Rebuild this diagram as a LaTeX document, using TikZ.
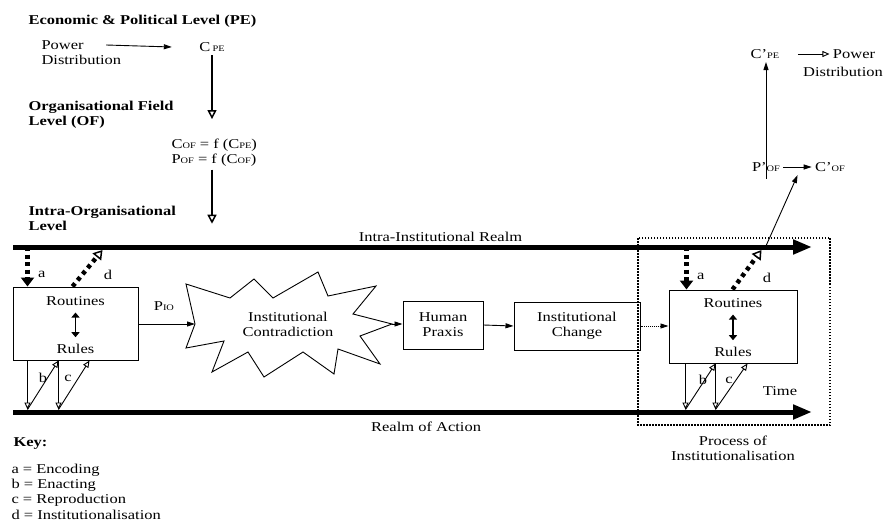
\documentclass[tikz,border=0pt]{standalone}
\usepackage{fontspec}
\setmainfont{Liberation Serif}[FakeStretch=1.22]
\usetikzlibrary{arrows.meta}
\newcommand{\lvl}[1]{{\fontsize{8.5}{9}\selectfont #1}}

\begin{document}
\begin{tikzpicture}[x=1pt, y=-1pt, font=\fontsize{13.5}{15}\selectfont,
    head/.style={anchor=west, align=left, font=\fontsize{13.5}{15}\selectfont\bfseries},
    txt/.style={anchor=west, align=left},
    box/.style={draw, line width=1pt, minimum height=48pt},
    realm/.style={line width=5pt, -{Triangle[length=19pt,width=14pt]}},
    down/.style={line width=2.5pt, -{Triangle[open,line width=1.5pt,length=9pt,width=9pt]}},
    enc/.style={line width=4.5pt, dash pattern=on 4pt off 3.5pt, -{Triangle[length=9pt,width=13pt]}},
    inst/.style={line width=4.5pt, dash pattern=on 4pt off 4pt, -{Triangle[open,line width=1.5pt,length=9pt,width=11pt]}},
    act/.style={line width=0.9pt, -{Triangle[open,line width=0.9pt,length=7pt,width=6pt]}},
    flow/.style={line width=0.9pt, -{Triangle[length=8pt,width=5pt]}},
    swap/.style={line width=1.8pt, {Triangle[length=5pt,width=8pt]}-{Triangle[length=5pt,width=8pt]}}]
\useasboundingbox (0,0) rectangle (886,524);

% levels
\node[head] (pe) at (25,21) {Economic \& Political Level (PE)};
\node[txt] (pw) at (38,45) {Power};
\node[txt] (dist) at (38,60) {Distribution};
\node (cpe) at (212,47) {C\,\lvl{PE}};
\draw[flow] ([xshift=19pt]pw.east) -- ([xshift=-24pt]cpe.west);
\node[head] (oflevel) at (25,114.5) {Organisational Field\\Level (OF)};
\node[txt] (fof) at (168,152.5) {C\lvl{OF} = f (C\lvl{PE})\\P\lvl{OF} = f (C\lvl{OF})};
\draw[down] (cpe.south) -- ++(0,64);
\node[head] (iolevel) at (25,218.5) {Intra-Organisational\\Level};
\draw[down] (cpe.south |- fof.south) -- ++(0,54);

% realms
\coordinate (intraL) at (13,247);
\coordinate (intraR) at (812,247);
\coordinate (actL) at (13,412);
\coordinate (actR) at (812,412);
\draw[realm] (intraL) -- node[pos=0.535, above=0pt] {Intra-Institutional Realm} (intraR);
\draw[realm] (actL) -- node[pos=0.517, below=4pt] {Realm of Action} (actR);

% first structure
\node[draw, line width=1pt, minimum width=125pt, minimum height=73pt] (box1) at (75.5,323.5) {};
\node (rout1) at ([yshift=-15pt]box1.north) {Routines};
\node (rule1) at ([yshift=12pt]box1.south) {Rules};
\draw[swap] ([yshift=-3pt]rout1.south) -- ([yshift=3pt]rule1.north);
\coordinate (a1) at ([xshift=15pt]box1.north west);
\coordinate (d1) at ([xshift=60pt]box1.north west);
\coordinate (d1e) at ([xshift=90pt]box1.north west);
\draw[enc] (a1 |- intraL) -- node[pos=0.7, right=5pt] {a} (a1);
\draw[inst] (d1) -- ([yshift=-3pt]d1e |- intraL);
\node at (108,275) {d};
\coordinate (b1) at ([xshift=15pt]box1.south west);
\coordinate (c1) at ([xshift=46pt]box1.south west);
\coordinate (e1) at ([xshift=77pt]box1.south west);
\draw[act] (b1) -- ([yshift=2.5pt]b1 |- actL);
\draw[act] ([yshift=2.5pt]b1 |- actL) -- (c1);
\draw[act] (c1) -- ([yshift=2.5pt]c1 |- actL);
\draw[act] ([yshift=2.5pt]c1 |- actL) -- (e1);
\node at (43,378) {b};
\node at (68,378) {c};

% contradiction and change
\node[align=center] (contra) at (288,324) {Institutional\\Contradiction};
\draw[line width=0.9pt, line join=miter, shift={(contra.center)}]
  (-93,0) coordinate (contraL) -- (-102,-40) -- (-58,-26) -- (-34,-45) -- (-15,-26)
  -- (30,-52) -- (40,-28) -- (88,-38) -- (65,-10) -- (104,0) coordinate (contraR)
  -- (72,12) -- (92,40) -- (50,25) -- (46,50) -- (15,28) -- (-24,53) -- (-40,28)
  -- (-76,48) -- (-64,17) -- (-102,24) -- cycle;
\draw[flow] (box1.east |- contraL) -- node[pos=0.45, above=10pt] {P\lvl{IO}} (contraL);
\node[box, minimum width=80pt, align=center] (hp) at (443,325) {Human\\Praxis};
\node[box, minimum width=126pt, align=center] (ic) at (577,326) {Institutional\\Change};
\draw[flow] (contraR) -- (hp.west |- contraR);
\draw[flow] (hp.east) -- (ic.west);

% second structure
\node[draw, line width=1pt, minimum width=128pt, minimum height=73pt] (box2) at (733,326.5) {};
\node (rout2) at ([yshift=-14pt]box2.north) {Routines};
\node (rule2) at ([yshift=12pt]box2.south) {Rules};
\draw[swap] ([yshift=-3pt]rout2.south) -- ([yshift=3pt]rule2.north);
\draw[flow, densely dotted] (ic.east) -- (box2.west |- ic);
\coordinate (a2) at ([xshift=18pt]box2.north west);
\coordinate (d2) at ([xshift=64pt]box2.north west);
\coordinate (d2e) at ([xshift=93pt]box2.north west);
\draw[enc] (a2 |- intraL) -- node[pos=0.7, right=5pt] {a} (a2);
\draw[inst] (d2) -- ([yshift=-3pt]d2e |- intraL);
\node at (767,278) {d};
\coordinate (b2) at ([xshift=17pt]box2.south west);
\coordinate (c2) at ([xshift=47pt]box2.south west);
\coordinate (e2) at ([xshift=79pt]box2.south west);
\draw[act] (b2) -- ([yshift=2.5pt]b2 |- actL);
\draw[act] ([yshift=2.5pt]b2 |- actL) -- (c2);
\draw[act] (c2) -- ([yshift=2.5pt]c2 |- actL);
\draw[act] ([yshift=2.5pt]c2 |- actL) -- (e2);
\node at (703,380) {b};
\node at (729,380) {c};
\node (time) at (780,391) {Time};
\draw[line width=1.5pt, dash pattern=on 1.5pt off 1.5pt] (638,238) rectangle (830,425);
\node[align=center] (proc) at (733,448.5) {Process of\\Institutionalisation};

% feedback to upper levels
\node (pof2) at (766,167) {P’\lvl{OF}};
\node (cof2) at (830,167) {C’\lvl{OF}};
\draw[flow] (pof2.east) -- (cof2.west);
\coordinate (out2) at ([xshift=4pt]d2e |- intraL);
\draw[flow] (out2) -- ([xshift=-14pt]cof2.south west);
\node (cpe2) at (765,54) {C’\lvl{PE}};
\node (pw2) at (854,54) {Power};
\node (dist2) at (843,72) {Distribution};
\draw[flow] ([yshift=-20pt]pof2.north) -- (pof2.north |- cpe2.south);
\draw[act] ([xshift=15pt]cpe2.east) -- (pw2.west);

% key
\node[head] (key) at (10,444) {Key:};
\node[txt] (ka) at (8,470) {a = Encoding};
\node[txt] (kb) at (8,485) {b = Enacting};
\node[txt] (kc) at (8,500) {c = Reproduction};
\node[txt] (kd) at (8,515) {d = Institutionalisation};
\end{tikzpicture}
\end{document}
